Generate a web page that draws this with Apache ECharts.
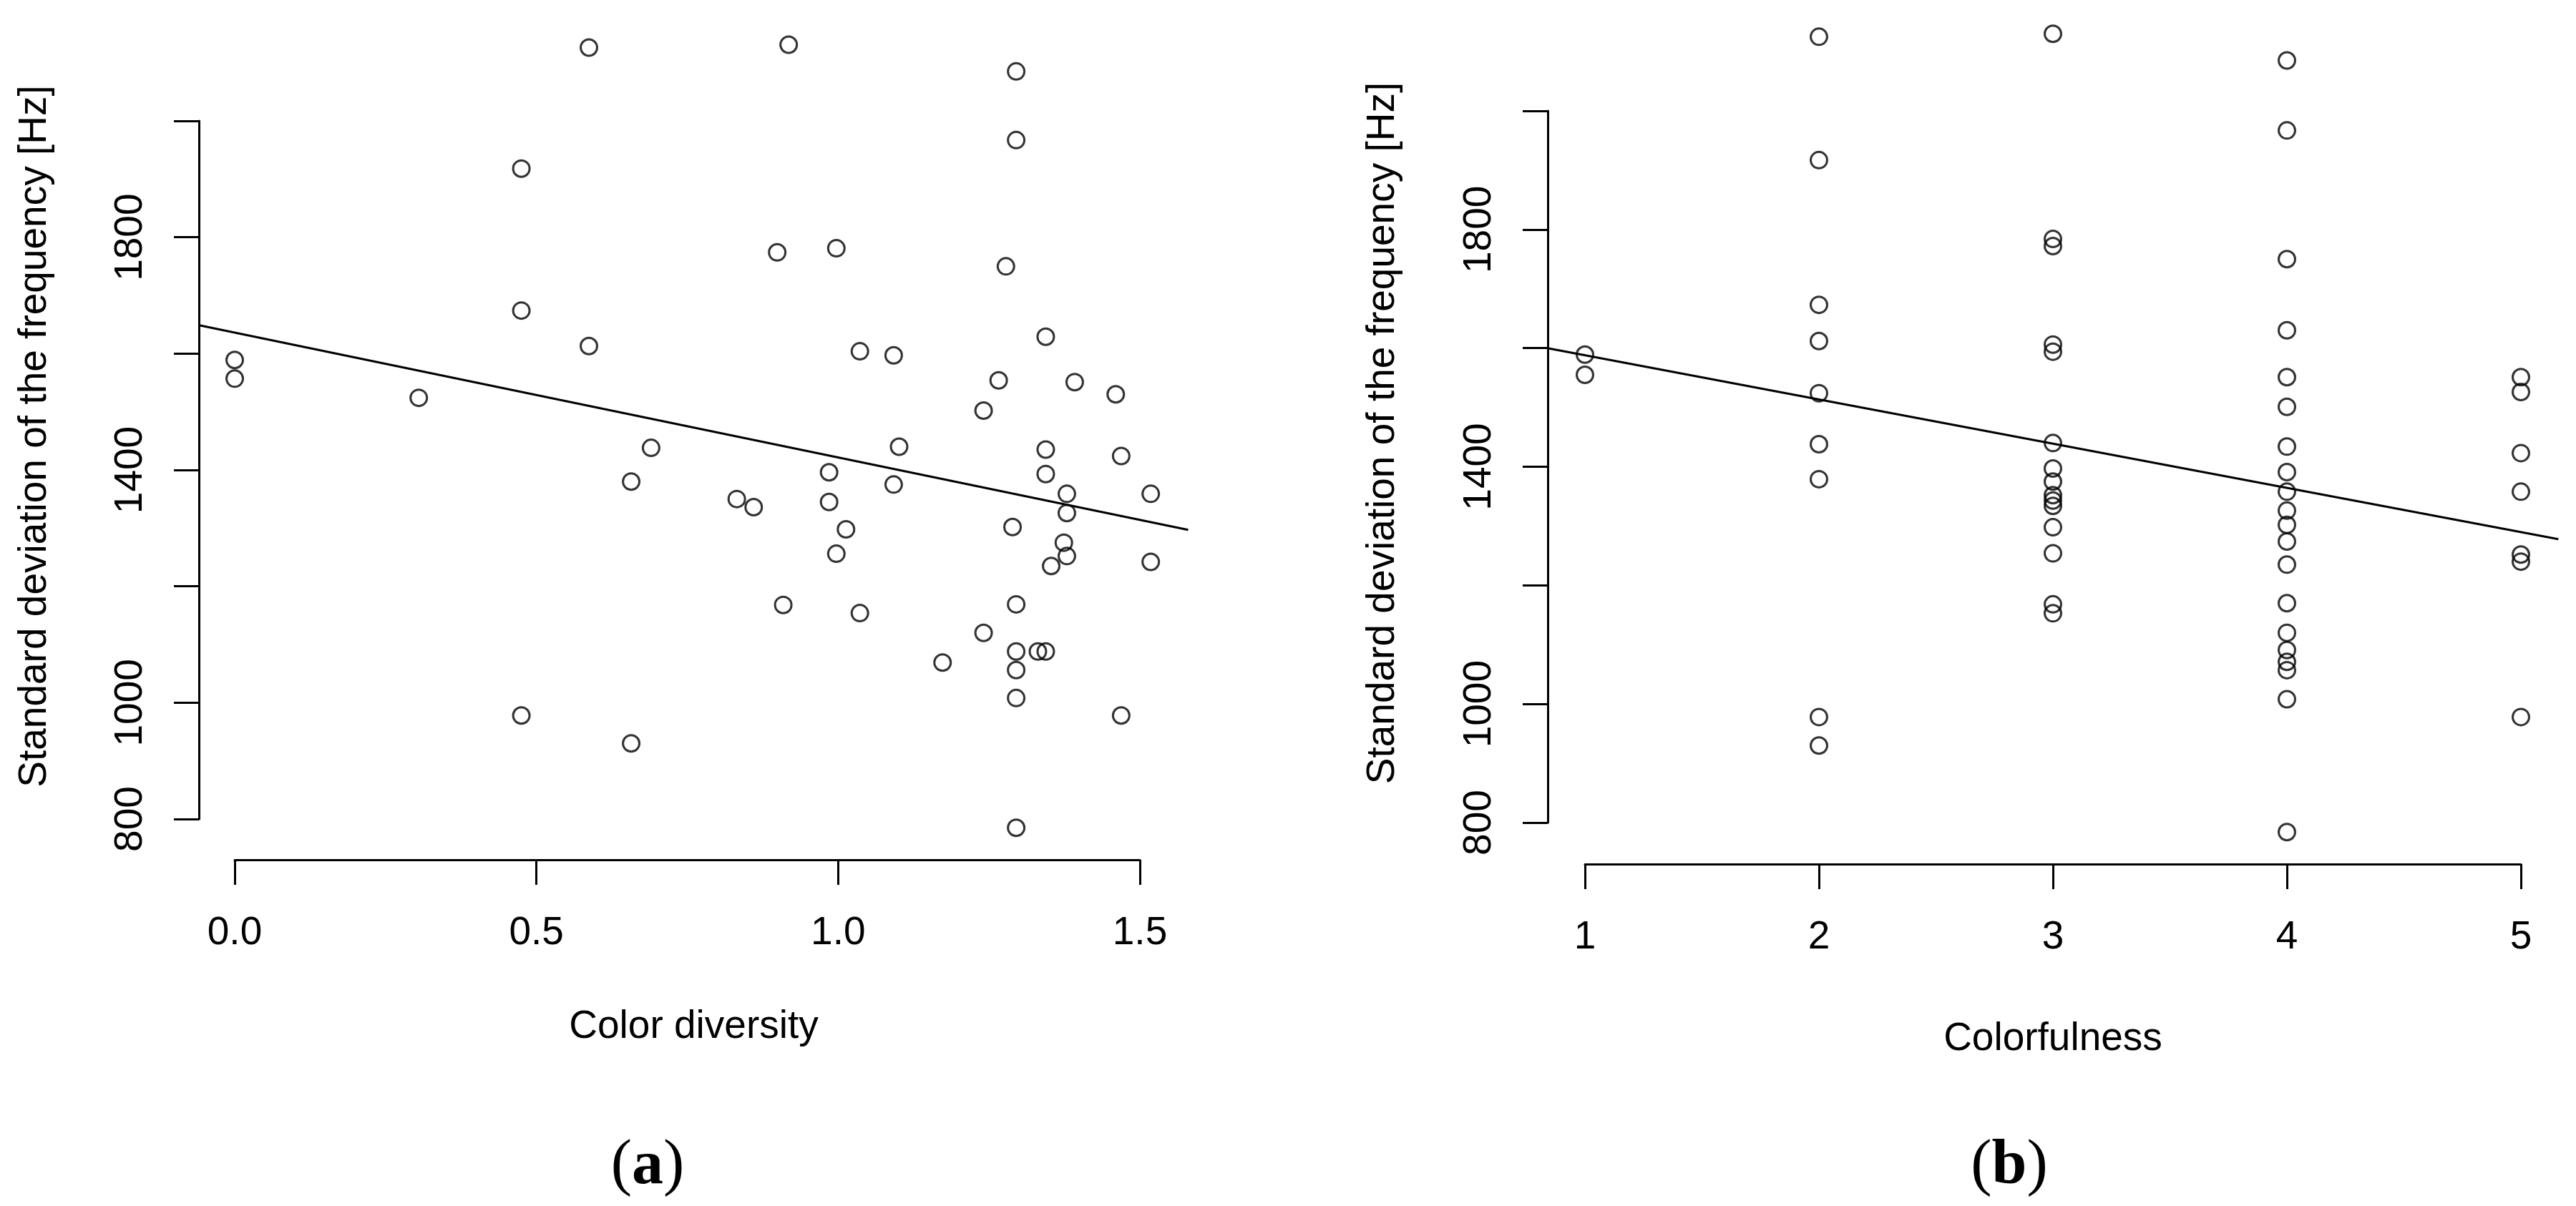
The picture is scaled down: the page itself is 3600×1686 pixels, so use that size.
<!DOCTYPE html>
<html lang="en">
<head>
    <meta charset="UTF-8">
    <script src="https://cdn.jsdelivr.net/npm/echarts@6/dist/echarts.min.js"></script>
    <style>
        html, body { margin: 0; padding: 0; background: #fff; }
        #chart { width: 3600px; height: 1686px; }
    </style>
</head>
<body>
    <div id="chart"></div>
    <script>
        // (a) colour diversity vs. std of the frequency
        var colorDiversity = [0.587, 0.918, 1.295, 1.295, 0.475, 0.899, 0.997, 1.278, 0.475, 0.587,
            1.344, 1.036, 1.092, 0.00, 0.00, 0.305, 1.266, 1.392, 1.460, 1.241,
            0.690, 1.101, 1.344, 1.469, 0.657, 0.985, 1.092, 1.344, 0.832, 0.860,
            0.985, 1.379, 1.518, 1.379, 1.013, 1.289, 0.997, 1.374, 1.379, 1.353,
            1.518, 0.909, 1.036, 1.295, 1.241, 1.173, 1.295, 1.331, 1.344, 1.295,
            1.295, 0.475, 1.469, 0.657, 1.295]
        var freqA = [2126, 2131, 2085, 1967, 1918, 1774, 1781, 1750, 1674, 1613,
            1629, 1604, 1597, 1589, 1557, 1524, 1554, 1551, 1530, 1502,
            1438, 1440, 1435, 1424, 1380, 1396, 1375, 1393, 1350, 1336,
            1345, 1359, 1359, 1326, 1298, 1302, 1256, 1275, 1252, 1235,
            1242, 1168, 1154, 1169, 1120, 1069, 1088, 1088, 1088, 1056,
            1008, 978, 978, 930, 785]

        // (b) colorfulness vs. std of the frequency
        var colorfulness = [1, 1,
            2, 2, 2, 2, 2, 2, 2, 2, 2,
            3, 3, 3, 3, 3, 3, 3, 3, 3, 3, 3, 3, 3, 3, 3,
            4, 4, 4, 4, 4, 4, 4, 4, 4, 4, 4, 4, 4, 4, 4, 4, 4, 4, 4, 4,
            5, 5, 5, 5, 5, 5, 5]
        var freqB = [1589, 1555,
            2125, 1917, 1673, 1612, 1524, 1438, 1379, 978, 930,
            2130, 1784, 1772, 1606, 1594, 1440, 1397, 1375, 1352, 1343, 1334, 1298, 1254, 1168, 1153,
            2085, 1967, 1750, 1630, 1551, 1501, 1434, 1391, 1358, 1326, 1302, 1274, 1235, 1170, 1120, 1091, 1071, 1057, 1008, 784,
            1551, 1526, 1423, 1358, 1252, 1240, 978]

        // fitted lines, read where they meet the plot edges
        var fitAX = [-0.06, 1.58]
        var fitAY = [1649, 1297]
        var fitBX = [0.84, 5.16]
        var fitBY = [1600, 1278]

        // R only printed some of the y labels
        var yLabelled = [800, 1000, 1400, 1800]

        function pairs(xs, ys) {
            var out = []
            for (var i = 0; i < xs.length; i++) out.push([xs[i], ys[i]])
            return out
        }

        var font = '"Liberation Sans", Arial, sans-serif'
        var black = '#000'

        function xAxisOf(grid, min, max, step, offset, fmt, name, gap, shift) {
            return {
                type: 'value', gridIndex: grid, min: min, max: max, interval: step,
                offset: offset,
                axisLine: { show: true, onZero: false, lineStyle: { color: black, width: 3 } },
                axisTick: { show: true, length: 35, lineStyle: { color: black, width: 3 } },
                axisLabel: { color: black, fontSize: 55, fontFamily: font, margin: 75, formatter: fmt },
                splitLine: { show: false },
                name: name, nameLocation: 'middle', nameGap: gap,
                nameTextStyle: { color: black, fontSize: 55, fontFamily: font, padding: [0, 0, 0, shift] }
            }
        }

        function yAxisOf(grid, offset, gap) {
            return {
                type: 'value', gridIndex: grid, min: 800, max: 2000, interval: 200,
                offset: offset,
                axisLine: { show: true, onZero: false, lineStyle: { color: black, width: 3 } },
                axisTick: { show: true, length: 35, lineStyle: { color: black, width: 3 } },
                axisLabel: {
                    color: black, fontSize: 55, fontFamily: font, margin: 68, rotate: 90,
                    formatter: function (v) { return yLabelled.indexOf(v) >= 0 ? String(v) : '' }
                },
                splitLine: { show: false },
                name: 'Standard deviation of the frequency [Hz]',
                nameLocation: 'middle', nameGap: gap,
                nameTextStyle: { color: black, fontSize: 55, fontFamily: font, padding: [0, 0, 0, 94] }
            }
        }

        function pointsSeries(idx, data) {
            return {
                type: 'scatter', xAxisIndex: idx, yAxisIndex: idx, data: data,
                symbol: 'circle', symbolSize: 23, clip: false, silent: true,
                itemStyle: { color: 'transparent', borderColor: black, borderWidth: 3 }
            }
        }

        // the line series got cut at the axis ends, so draw the fit with a custom series
        function fitSeries(idx, xs, ys) {
            return {
                type: 'custom', xAxisIndex: idx, yAxisIndex: idx,
                data: [[xs[0], ys[0], xs[1], ys[1]]],
                encode: { x: [0, 2], y: [1, 3] },
                clip: false, silent: true,
                renderItem: function (params, api) {
                    var p0 = api.coord([api.value(0), api.value(1)])
                    var p1 = api.coord([api.value(2), api.value(3)])
                    return {
                        type: 'line',
                        shape: { x1: p0[0], y1: p0[1], x2: p1[0], y2: p1[1] },
                        style: { stroke: black, lineWidth: 3 }
                    }
                }
            }
        }

        function panelTag(x, letter) {
            return {
                type: 'text', x: x, y: 1631,
                style: {
                    text: '{p|(}{b|' + letter + '}{p|)}', align: 'center', verticalAlign: 'middle',
                    rich: {
                        p: { fontFamily: '"Liberation Serif", serif', fontSize: 88, fill: black },
                        b: { fontFamily: '"Liberation Serif", serif', fontSize: 88, fontWeight: 'bold', fill: black }
                    }
                }
            }
        }

        var myChart = echarts.init(document.getElementById('chart'))
        var option = {
            animation: false,
            backgroundColor: '#fff',
            // grids cover the tick range only, axes pushed out with offset like R does
            grid: [
                { left: 328, top: 169, width: 1265, height: 976 },
                { left: 2215, top: 155, width: 1308, height: 995 }
            ],
            xAxis: [
                xAxisOf(0, 0, 1.5, 0.5, 57, function (v) { return v.toFixed(1) }, 'Color diversity', 206, 18),
                xAxisOf(1, 1, 5, 1, 58, function (v) { return String(v) }, 'Colorfulness', 217, 0)
            ],
            yAxis: [
                yAxisOf(0, 50, 202),
                yAxisOf(1, 52, 203)
            ],
            series: [
                pointsSeries(0, pairs(colorDiversity, freqA)),
                fitSeries(0, fitAX, fitAY),
                pointsSeries(1, pairs(colorfulness, freqB)),
                fitSeries(1, fitBX, fitBY)
            ],
            graphic: [panelTag(905, 'a'), panelTag(2808, 'b')]
        }
        myChart.setOption(option)
    </script>
</body>
</html>
